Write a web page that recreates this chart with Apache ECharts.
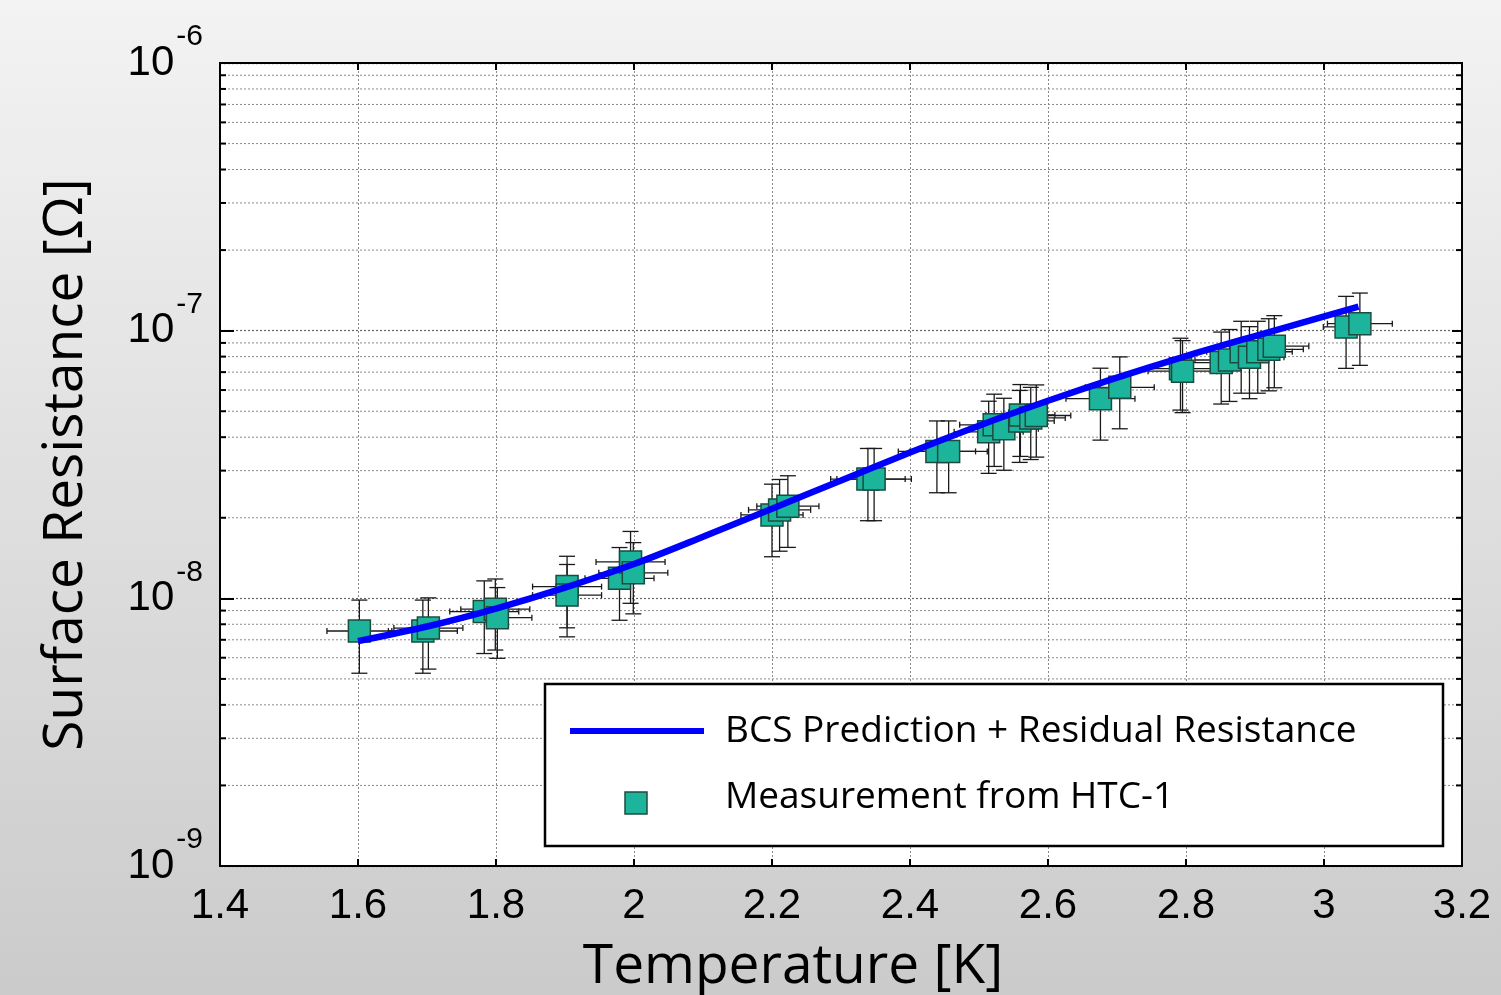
<!DOCTYPE html>
<html><head><meta charset="utf-8">
<script src="https://cdn.jsdelivr.net/npm/echarts@6/dist/echarts.min.js"></script>
<style>html,body{margin:0;padding:0;background:#ddd;} #c{width:1501px;height:995px;}</style>
</head><body><div id="c"></div>
<script>
// ---- data ----
const curveT = [1.60, 1.70, 1.80, 1.90, 2.00, 2.10, 2.20, 2.30, 2.40, 2.50, 2.60, 2.70, 2.80, 2.90, 3.05];
const curveR = [6.92e-9, 7.85e-9, 9.16e-9, 1.096e-8, 1.343e-8, 1.698e-8, 2.163e-8, 2.754e-8, 3.508e-8, 4.416e-8, 5.47e-8, 6.68e-8, 8.04e-8, 9.55e-8, 1.23e-7];

const measT = [1.602, 1.694, 1.702, 1.783, 1.799, 1.802, 1.903, 1.903, 1.979, 1.995, 1.999,
  2.200, 2.211, 2.223, 2.339, 2.348, 2.439, 2.456, 2.514, 2.522, 2.536, 2.559, 2.560, 2.575, 2.583,
  2.676, 2.704, 2.792, 2.795, 2.851, 2.863, 2.880, 2.892, 2.904, 2.920, 2.928, 3.032, 3.052];
const measR = [7.55e-9, 7.55e-9, 7.74e-9, 8.92e-9, 9.11e-9, 8.47e-9, 1.106e-8, 1.028e-8, 1.188e-8, 1.368e-8, 1.245e-8,
  2.05e-8, 2.14e-8, 2.21e-8, 2.79e-8, 2.79e-8, 3.54e-8, 3.54e-8, 4.19e-8, 4.45e-8, 4.30e-8, 4.60e-8, 4.84e-8, 4.72e-8, 4.82e-8,
  5.57e-8, 6.14e-8, 7.21e-8, 7.06e-8, 7.60e-8, 7.77e-8, 8.34e-8, 7.96e-8, 8.34e-8, 8.52e-8, 8.75e-8, 1.033e-7, 1.062e-7];
const measXErr = [0.047, 0.05, 0.05, 0.05, 0.05, 0.05, 0.05, 0.05, 0.05, 0.05, 0.05,
  0.045, 0.045, 0.045, 0.054, 0.054, 0.056, 0.056, 0.05, 0.05, 0.05, 0.05, 0.05, 0.05, 0.05,
  0.05, 0.05, 0.05, 0.05, 0.05, 0.05, 0.05, 0.05, 0.05, 0.05, 0.05, 0.033, 0.047];
const measYErr = [2.3e-9, 2.3e-9, 2.3e-9, 2.7e-9, 2.7e-9, 2.5e-9, 3.3e-9, 3.1e-9, 3.6e-9, 4.1e-9, 3.7e-9,
  6.2e-9, 6.4e-9, 6.6e-9, 8.4e-9, 8.4e-9, 1.06e-8, 1.06e-8, 1.26e-8, 1.34e-8, 1.29e-8, 1.38e-8, 1.45e-8, 1.42e-8, 1.45e-8,
  1.67e-8, 1.84e-8, 2.16e-8, 2.12e-8, 2.28e-8, 2.33e-8, 2.5e-8, 2.39e-8, 2.5e-8, 2.56e-8, 2.63e-8, 3.1e-8, 3.2e-8];

const minorR = [2e-9, 3e-9, 4e-9, 5e-9, 6e-9, 7e-9, 8e-9, 9e-9,
  2e-8, 3e-8, 4e-8, 5e-8, 6e-8, 7e-8, 8e-8, 9e-8,
  2e-7, 3e-7, 4e-7, 5e-7, 6e-7, 7e-7, 8e-7, 9e-7];

const xMin = 1.4, xMax = 3.2, xStep = 0.2;
const yMin = 1e-9, yMax = 1e-6;
const lineName = 'BCS Prediction + Residual Resistance';
const measName = 'Measurement from HTC-1';
const xTitle = 'Temperature [K]';
const yTitle = 'Surface Resistance [Ω]';

// ---- chart ----
const chart = echarts.init(document.getElementById('c'), null, {renderer: 'canvas'});
const teal = '#1cb49b';
const tealBorder = '#1d4b40';
const GL = 220, GT = 63, GR = 1462, GB = 866;

const curveData = curveT.map((t, i) => [t, curveR[i]]);
const measData = measT.map((t, i) => [t, measR[i]]);
const errData = measT.map((t, i) => [t, measR[i], measXErr[i], measYErr[i]]);
const minorData = minorR.map(v => [xMin, v]);

const labelFont = '"Liberation Sans", Arial, sans-serif';
const textFont = '"Open Sans", "Noto Sans", sans-serif';

chart.setOption({
  animation: false,
  backgroundColor: {type: 'linear', x: 0, y: 0, x2: 0, y2: 1,
    colorStops: [{offset: 0, color: '#f3f3f3'}, {offset: 1, color: '#cbcbcb'}]},
  grid: {left: GL, top: GT, width: GR - GL, height: GB - GT, show: true,
    outerBoundsMode: 'none', containLabel: false,
    backgroundColor: '#ffffff', borderColor: '#000', borderWidth: 2},
  xAxis: [{
    type: 'value', min: xMin, max: xMax, interval: xStep, position: 'bottom',
    name: xTitle, nameLocation: 'middle', nameGap: 74,
    nameTextStyle: {fontFamily: textFont, fontSize: 55, color: '#000', padding: [0, 96, 0, 0]},
    axisLine: {show: true, lineStyle: {color: '#000', width: 2}},
    axisTick: {show: true, inside: true, length: 7, lineStyle: {color: '#000', width: 2}},
    axisLabel: {fontFamily: labelFont, fontSize: 42, color: '#000', margin: 19},
    splitLine: {show: true, lineStyle: {color: '#8a8a8a', width: 1, type: [2, 2]}}
  }, {
    type: 'value', min: xMin, max: xMax, interval: xStep, position: 'top',
    axisLine: {show: true, lineStyle: {color: '#000', width: 2}},
    axisTick: {show: true, inside: true, length: 7, lineStyle: {color: '#000', width: 2}},
    axisLabel: {show: false}, splitLine: {show: false}
  }],
  yAxis: [{
    type: 'log', logBase: 10, min: yMin, max: yMax, splitNumber: 3, position: 'left',
    name: yTitle, nameLocation: 'middle', nameGap: 126, nameRotate: 90,
    nameTextStyle: {fontFamily: textFont, fontSize: 55, color: '#000'},
    axisLine: {show: true, lineStyle: {color: '#000', width: 2}},
    axisTick: {show: true, inside: true, length: 14, lineStyle: {color: '#000', width: 2}},
    axisLabel: {
      margin: 17, color: '#000',
      formatter: v => '{b|10}{s|' + Math.round(Math.log10(v)) + '}',
      rich: {
        b: {fontFamily: labelFont, fontSize: 42, lineHeight: 42, color: '#000', padding: [0, 2, 0, 0]},
        s: {fontFamily: labelFont, fontSize: 30, lineHeight: 30, color: '#000', padding: [0, 0, 52, 0]}
      }
    },
    splitLine: {show: true, lineStyle: {color: '#666', width: 1.2, type: [2, 2]}}
  }, {
    type: 'log', logBase: 10, min: yMin, max: yMax, splitNumber: 3, position: 'right',
    axisLine: {show: true, lineStyle: {color: '#000', width: 2}},
    axisTick: {show: true, inside: true, length: 10, lineStyle: {color: '#000', width: 2}},
    axisLabel: {show: false}, splitLine: {show: false}
  }],
  series: [
    {
      type: 'custom', name: 'minorGrid', silent: true, z: 1, clip: false,
      data: minorData,
      renderItem: (params, api) => {
        const cs = params.coordSys;
        const y = api.coord([api.value(0), api.value(1)])[1];
        return {type: 'group', children: [
          {type: 'line', shape: {x1: cs.x, y1: y, x2: cs.x + cs.width, y2: y},
            style: {stroke: '#8a8a8a', lineWidth: 1, lineDash: [2, 2]}},
          {type: 'line', shape: {x1: cs.x, y1: y, x2: cs.x + 6, y2: y},
            style: {stroke: '#000', lineWidth: 2}},
          {type: 'line', shape: {x1: cs.x + cs.width - 6, y1: y, x2: cs.x + cs.width, y2: y},
            style: {stroke: '#000', lineWidth: 2}}
        ]};
      }
    },
    {
      type: 'custom', name: 'errors', silent: true, z: 2,
      data: errData,
      renderItem: (params, api) => {
        const x = api.value(0), y = api.value(1), dx = api.value(2), dy = api.value(3);
        const c = api.coord([x, y]);
        const top = api.coord([x, y + dy])[1];
        const bot = api.coord([x, y - dy])[1];
        const left = api.coord([x - dx, y])[0];
        const right = api.coord([x + dx, y])[0];
        const st = {stroke: '#1a1a1a', lineWidth: 1.3};
        const cw = 8, ch = 3;
        return {type: 'group', children: [
          {type: 'line', shape: {x1: c[0], y1: top, x2: c[0], y2: bot}, style: st},
          {type: 'line', shape: {x1: c[0] - cw, y1: top, x2: c[0] + cw, y2: top}, style: st},
          {type: 'line', shape: {x1: c[0] - cw, y1: bot, x2: c[0] + cw, y2: bot}, style: st},
          {type: 'line', shape: {x1: left, y1: c[1], x2: right, y2: c[1]}, style: st},
          {type: 'line', shape: {x1: left, y1: c[1] - ch, x2: left, y2: c[1] + ch}, style: st},
          {type: 'line', shape: {x1: right, y1: c[1] - ch, x2: right, y2: c[1] + ch}, style: st}
        ]};
      }
    },
    {
      type: 'scatter', name: measName, z: 3,
      data: measData, symbol: 'rect', symbolSize: 22,
      itemStyle: {color: teal, borderColor: tealBorder, borderWidth: 1.5, opacity: 1}
    },
    {
      type: 'line', name: lineName, z: 4,
      data: curveData, showSymbol: false, symbol: 'none', smooth: 0.3,
      lineStyle: {color: '#0000ff', width: 6.5}
    }
  ],
  graphic: [
    {type: 'rect', z: 100, shape: {x: 545, y: 684, width: 898, height: 162},
      style: {fill: '#fff', stroke: '#000', lineWidth: 2.5}},
    {type: 'line', z: 101, shape: {x1: 570, y1: 731, x2: 704, y2: 731},
      style: {stroke: '#0000ff', lineWidth: 6}},
    {type: 'rect', z: 101, shape: {x: 625, y: 792, width: 22, height: 22},
      style: {fill: teal, stroke: tealBorder, lineWidth: 1.5}},
    {type: 'text', z: 101, x: 725, y: 731,
      style: {text: lineName, fontFamily: textFont, fontSize: 37, fill: '#000', verticalAlign: 'middle'}},
    {type: 'text', z: 101, x: 725, y: 797,
      style: {text: measName, fontFamily: textFont, fontSize: 37, fill: '#000', verticalAlign: 'middle'}}
  ]
});
</script>
</body></html>
